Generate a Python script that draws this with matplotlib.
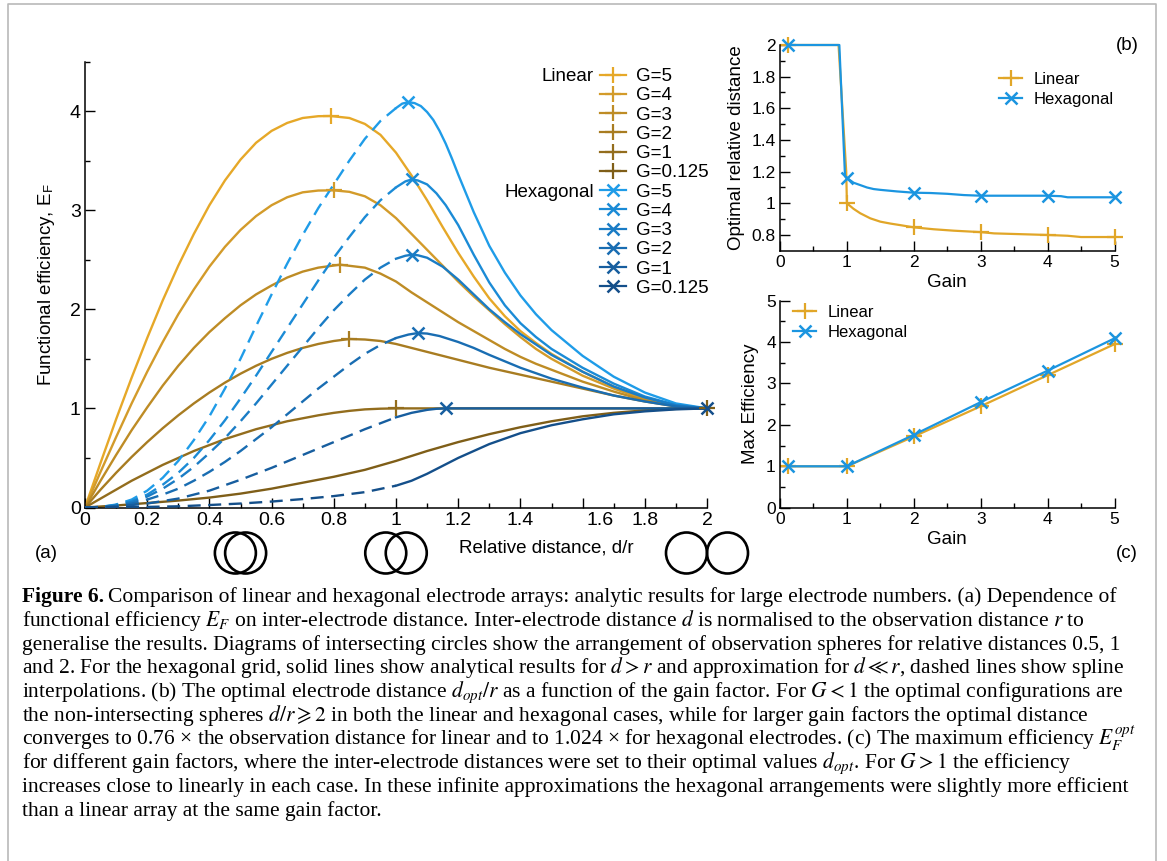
import numpy as np
import matplotlib
matplotlib.use("Agg")
import matplotlib.pyplot as plt
from matplotlib.lines import Line2D
from matplotlib.patches import Circle
from matplotlib.transforms import ScaledTranslation

plt.rcParams["font.family"] = ["Liberation Sans", "DejaVu Sans"]
plt.rcParams["mathtext.fontset"] = "stix"

# ---------------- data: panel (a), functional efficiency vs d/r
gain_labels = ["G=5", "G=4", "G=3", "G=2", "G=1", "G=0.125"]

lin_x = [
    [0, .05, .1, .15, .2, .25, .3, .35, .4, .45, .5, .55, .6, .65, .7, .75, .79, .85, .9, .95,
     1.0, 1.05, 1.1, 1.15, 1.2, 1.25, 1.3, 1.35, 1.4, 1.45, 1.5, 1.6, 1.7, 1.8, 1.9, 2.0],
    [0, .05, .1, .15, .2, .25, .3, .35, .4, .45, .5, .55, .6, .65, .7, .75, .8, .85, .9, .95,
     1.0, 1.05, 1.1, 1.15, 1.2, 1.25, 1.3, 1.35, 1.4, 1.45, 1.5, 1.6, 1.7, 1.8, 1.9, 2.0],
    [0, .05, .1, .15, .2, .25, .3, .35, .4, .45, .5, .55, .6, .65, .7, .75, .82, .9, .95,
     1.0, 1.05, 1.1, 1.15, 1.2, 1.25, 1.3, 1.35, 1.4, 1.45, 1.5, 1.6, 1.7, 1.8, 1.9, 2.0],
    [0, .05, .1, .15, .2, .25, .3, .35, .4, .45, .5, .55, .6, .65, .7, .75, .8, .85, .9, .95,
     1.0, 1.1, 1.2, 1.3, 1.4, 1.5, 1.6, 1.7, 1.8, 1.9, 2.0],
    [0, .05, .1, .15, .2, .25, .3, .35, .4, .45, .5, .55, .6, .65, .7, .75, .8, .85, .9, .95,
     1.0, 2.0],
    [0, .1, .2, .3, .4, .5, .6, .7, .8, .9, 1.0, 1.1, 1.2, 1.3, 1.4, 1.5, 1.6, 1.7, 1.8, 1.9, 2.0],
]
lin_y = [
    [0, .45, .89, 1.31, 1.71, 2.09, 2.44, 2.76, 3.05, 3.3, 3.51, 3.68, 3.8, 3.88, 3.93, 3.948, 3.95,
     3.93, 3.87, 3.76, 3.58, 3.35, 3.1, 2.83, 2.57, 2.33, 2.11, 1.93, 1.78, 1.66, 1.55, 1.37, 1.22,
     1.1, 1.03, 1.0],
    [0, .36, .71, 1.05, 1.37, 1.67, 1.95, 2.2, 2.43, 2.63, 2.8, 2.94, 3.05, 3.13, 3.18, 3.198, 3.2,
     3.185, 3.14, 3.05, 2.92, 2.76, 2.6, 2.44, 2.28, 2.13, 1.99, 1.85, 1.72, 1.6, 1.5, 1.33, 1.2,
     1.09, 1.025, 1.0],
    [0, .27, .53, .78, 1.01, 1.23, 1.43, 1.61, 1.77, 1.91, 2.04, 2.15, 2.24, 2.32, 2.38, 2.42, 2.45,
     2.42, 2.36, 2.28, 2.17, 2.07, 1.97, 1.87, 1.78, 1.69, 1.6, 1.52, 1.45, 1.39, 1.27, 1.17, 1.08,
     1.025, 1.0],
    [0, .18, .35, .51, .66, .8, .93, 1.05, 1.16, 1.26, 1.35, 1.43, 1.5, 1.56, 1.61, 1.65, 1.68, 1.70,
     1.695, 1.68, 1.65, 1.57, 1.49, 1.41, 1.34, 1.27, 1.2, 1.13, 1.07, 1.02, 1.0],
    [0, .09, .18, .27, .35, .43, .5, .57, .63, .69, .74, .79, .83, .87, .9, .93, .955, .975, .99, .997,
     1.0, 1.0],
    [0, .02, .045, .07, .1, .14, .19, .25, .31, .38, .47, .57, .66, .74, .81, .87, .92, .955, .98, .995, 1.0],
]

hex_x = [
    [0, .05, .1, .15, .2, .25, .3, .35, .4, .45, .5, .55, .6, .65, .7, .75, .8, .85, .9, .95,
     1.0, 1.02, 1.04, 1.06, 1.08, 1.1, 1.12, 1.14, 1.16, 1.18, 1.2, 1.25, 1.3, 1.35, 1.4, 1.45, 1.5,
     1.6, 1.7, 1.8, 1.9, 2.0],
    [0, .05, .1, .15, .2, .25, .3, .35, .4, .45, .5, .55, .6, .65, .7, .75, .8, .85, .9, .95,
     1.0, 1.03, 1.05, 1.07, 1.1, 1.13, 1.16, 1.2, 1.25, 1.3, 1.35, 1.4, 1.45, 1.5, 1.6, 1.7, 1.8,
     1.9, 2.0],
    [0, .05, .1, .15, .2, .25, .3, .35, .4, .45, .5, .55, .6, .65, .7, .75, .8, .85, .9, .95,
     1.0, 1.03, 1.05, 1.07, 1.1, 1.15, 1.2, 1.25, 1.3, 1.35, 1.4, 1.5, 1.6, 1.7, 1.8, 1.9, 2.0],
    [0, .05, .1, .15, .2, .25, .3, .35, .4, .45, .5, .55, .6, .65, .7, .75, .8, .85, .9, .95,
     1.0, 1.04, 1.07, 1.1, 1.14, 1.2, 1.25, 1.3, 1.4, 1.5, 1.6, 1.7, 1.8, 1.9, 2.0],
    [0, .1, .2, .3, .4, .5, .6, .7, .8, .9, .95, 1.0, 1.05, 1.1, 1.13, 1.16, 2.0],
    [0, .1, .2, .3, .4, .5, .6, .7, .8, .9, 1.0, 1.05, 1.1, 1.15, 1.2, 1.3, 1.4, 1.5, 1.6, 1.7,
     1.8, 1.9, 2.0],
]
hex_y = [
    [0, .005, .03, .08, .17, .3, .47, .68, .92, 1.2, 1.5, 1.83, 2.15, 2.46, 2.75, 3.02, 3.26, 3.5,
     3.72, 3.9, 4.03, 4.075, 4.09, 4.08, 4.05, 3.99, 3.91, 3.8, 3.67, 3.52, 3.36, 2.98, 2.64, 2.37,
     2.14, 1.95, 1.79, 1.53, 1.32, 1.16, 1.05, 1.0],
    [0, .005, .025, .065, .13, .23, .35, .5, .68, .88, 1.1, 1.33, 1.57, 1.81, 2.05, 2.29, 2.52,
     2.73, 2.93, 3.1, 3.23, 3.29, 3.31, 3.30, 3.26, 3.17, 3.05, 2.85, 2.55, 2.27, 2.04, 1.86, 1.72,
     1.6, 1.41, 1.25, 1.12, 1.035, 1.0],
    [0, .004, .02, .055, .11, .19, .29, .41, .55, .7, .87, 1.05, 1.24, 1.43, 1.62, 1.81, 1.99,
     2.15, 2.3, 2.42, 2.51, 2.54, 2.55, 2.545, 2.52, 2.43, 2.3, 2.15, 2.0, 1.87, 1.75, 1.54, 1.37,
     1.22, 1.11, 1.03, 1.0],
    [0, .003, .015, .04, .08, .13, .19, .27, .36, .46, .57, .69, .81, .94, 1.07, 1.2, 1.32, 1.44,
     1.55, 1.64, 1.71, 1.745, 1.76, 1.755, 1.73, 1.67, 1.61, 1.54, 1.41, 1.3, 1.21, 1.13, 1.07,
     1.02, 1.0],
    [0, .01, .04, .09, .17, .28, .4, .53, .66, .79, .85, .91, .955, .985, .996, 1.0, 1.0],
    [0, .002, .006, .012, .025, .04, .06, .085, .115, .155, .22, .27, .34, .42, .5, .64, .75, .83,
     .89, .94, .97, .99, 1.0],
]

lin_colors = ["#E6A828", "#D39B2A", "#BE8C25", "#A87C21", "#936D1D", "#7F5E18"]
hex_colors = ["#1F9CE8", "#1B8BD6", "#1A7CC5", "#196DB2", "#175E9F", "#144F8A"]

# ---------------- data: panel (b), optimal relative distance vs gain
gain_b_lin = [0.125, 0.875, 0.99, 1.0, 1.1, 1.2, 1.35, 1.5, 1.65, 1.8, 2.0, 2.3, 2.6, 3.0, 3.2, 3.6,
              4.0, 4.3, 4.5, 5.0]
dist_b_lin = [2.0, 2.0, 1.2, 1.0, 0.965, 0.937, 0.905, 0.884, 0.872, 0.862, 0.848, 0.836, 0.827,
              0.818, 0.81, 0.805, 0.80, 0.795, 0.787, 0.787]
gain_b_hex = [0.125, 0.887, 0.972, 1.0, 1.1, 1.2, 1.3, 1.4, 1.5, 1.75, 2.0, 2.25, 2.5, 2.75, 3.0,
              3.5, 4.0, 4.2, 4.3, 5.0]
dist_b_hex = [2.0, 2.0, 1.17, 1.16, 1.13, 1.115, 1.10, 1.09, 1.085, 1.075, 1.067, 1.065, 1.06,
              1.052, 1.048, 1.048, 1.048, 1.045, 1.038, 1.038]
marker_gains = [0.125, 1.0, 2.0, 3.0, 4.0, 5.0]

# ---------------- data: panel (c), max efficiency vs gain
gain_c = [0.125, 1, 2, 3, 4, 5]
eff_lin = [1.0, 1.0, 1.72, 2.45, 3.2, 3.95]
eff_hex = [1.0, 1.0, 1.76, 2.55, 3.31, 4.09]

LIN = "#E1A628"
HEX = "#1B95E0"

caption_lines = [
    "Comparison of linear and hexagonal electrode arrays: analytic results for large electrode numbers. (a) Dependence of",
    "functional efficiency $E_F$ on inter-electrode distance. Inter-electrode distance $d$ is normalised to the observation distance $r$ to",
    "generalise the results. Diagrams of intersecting circles show the arrangement of observation spheres for relative distances 0.5, 1",
    "and 2. For the hexagonal grid, solid lines show analytical results for $d > r$ and approximation for $d \\ll r$, dashed lines show spline",
    "interpolations. (b) The optimal electrode distance $d_{opt}/r$ as a function of the gain factor. For $G < 1$ the optimal configurations are",
    "the non-intersecting spheres $d/r \\geqslant 2$ in both the linear and hexagonal cases, while for larger gain factors the optimal distance",
    "converges to 0.76 × the observation distance for linear and to 1.024 × for hexagonal electrodes. (c) The maximum efficiency $E_F^{opt}$",
    "for different gain factors, where the inter-electrode distances were set to their optimal values $d_{opt}$. For $G > 1$ the efficiency",
    "increases close to linearly in each case. In these infinite approximations the hexagonal arrangements were slightly more efficient",
    "than a linear array at the same gain factor.",
]
caption_y = [597, 621, 645, 668, 692, 716, 740, 763, 787, 811]

W, H = 1167, 861
fig = plt.figure(figsize=(W / 100, H / 100), dpi=100)


def box(x0, y0, x1, y1):
    """pixel box (top-left origin) -> figure rect"""
    return [x0 / W, 1 - y1 / H, (x1 - x0) / W, (y1 - y0) / H]


def style_axes(ax, labelsize):
    for side in ("top", "right"):
        ax.spines[side].set_visible(False)
    for side in ("left", "bottom"):
        ax.spines[side].set_linewidth(1.1)
    ax.tick_params(which="both", direction="in", width=1.0, labelsize=labelsize, pad=3)
    ax.tick_params(which="major", length=7)
    ax.tick_params(which="minor", length=3.6)


# --- (a) functional efficiency
ax = fig.add_axes(box(85, 61.5, 707, 507.5))
style_axes(ax, 14)
for xs, ys, c in zip(lin_x, lin_y, lin_colors):
    xs, ys = np.array(xs), np.array(ys)
    ax.plot(xs, ys, color=c, lw=1.7, zorder=2, solid_joinstyle="round")
    k = int(np.argmax(ys))
    ax.plot(xs[k], ys[k], marker="+", ms=11, mew=1.6, color=c, zorder=4, clip_on=False)
for xs, ys, c in zip(hex_x, hex_y, hex_colors):
    xs, ys = np.array(xs), np.array(ys)
    dash = xs <= 1.0
    solid = xs >= 1.0
    ax.plot(xs[dash], ys[dash], color=c, lw=1.7, ls=(0, (5.5, 3.2)), zorder=3)
    ax.plot(xs[solid], ys[solid], color=c, lw=1.7, zorder=3, solid_joinstyle="round")
    k = int(np.argmax(ys))
    ax.plot(xs[k], ys[k], marker="x", ms=8, mew=1.8, color=c, zorder=4, clip_on=False)

ax.set_xlim(0, 2)
ax.set_ylim(0, 4.5)
ax.set_xticks([0, .2, .4, .6, .8, 1, 1.2, 1.4, 1.6, 1.8, 2],
              ["0", "0.2", "0.4", "0.6", "0.8", "1", "1.2", "1.4", "1.6", "1.8", "2"])
ax.set_xticks(np.arange(0.1, 2.0, 0.2), minor=True)
ax.set_yticks([0, 1, 2, 3, 4], ["0", "1", "2", "3", "4"])
ax.set_yticks([0.5, 1.5, 2.5, 3.5, 4.5], minor=True)
for lab in ax.get_xticklabels():
    if lab.get_text() == "1.6":
        lab.set_transform(lab.get_transform() + ScaledTranslation(0.17, 0, fig.dpi_scale_trans))
ax.set_ylabel("Functional efficiency, E$_\\mathregular{F}$", fontsize=13.5, va="center")
ax.yaxis.set_label_coords((47 - 85) / 622, 0.5)

handles = [Line2D([], [], color=c, lw=1.6, marker="+", ms=11, mew=1.6) for c in lin_colors]
handles += [Line2D([], [], color=c, lw=1.6, marker="x", ms=8, mew=1.8) for c in hex_colors]
leg = ax.legend(handles, gain_labels + gain_labels, loc="upper left",
                bbox_to_anchor=(600 / W, 1 - 68 / H), bbox_transform=fig.transFigure,
                frameon=False, fontsize=13.5, handlelength=1.4, handletextpad=0.5,
                labelspacing=0.113, borderpad=0, borderaxespad=0)

fig.text(546 / W, 1 - 548 / H, "Relative distance, d/r", fontsize=13.5, ha="center", va="center")
fig.text(35 / W, 1 - 553 / H, "(a)", fontsize=13.5, ha="left", va="center")

# circle diagrams for d/r = 0.5, 1, 2
r_px = 20.5
for d in (0.5, 1.0, 2.0):
    xc = ax.transData.transform((d, 0))[0]
    for sgn in (-1, 1):
        cx = xc + sgn * d * r_px / 2
        fig.add_artist(Circle((cx / 100, (H - 553) / 100), r_px / 100, transform=fig.dpi_scale_trans,
                              fill=False, ec="black", lw=1.9))

# --- (b) optimal relative distance
axb = fig.add_axes(box(780, 45, 1114.5, 250.8))
style_axes(axb, 12.5)
mk_lin = [gain_b_lin.index(g) for g in marker_gains]
mk_hex = [gain_b_hex.index(g) for g in marker_gains]
axb.plot(gain_b_hex, dist_b_hex, color=HEX, lw=1.6, marker="x", ms=8, mew=1.8,
         markevery=mk_hex, label="Hexagonal", clip_on=False, zorder=3)
axb.plot(gain_b_lin, dist_b_lin, color=LIN, lw=1.6, marker="+", ms=11, mew=1.6,
         markevery=mk_lin, label="Linear", clip_on=False, zorder=2)
axb.set_xlim(0, 5)
axb.set_ylim(0.7, 2.0)
axb.set_xticks([0, 1, 2, 3, 4, 5])
axb.set_xticks([0.5, 1.5, 2.5, 3.5, 4.5], minor=True)
axb.set_yticks([0.8, 1.0, 1.2, 1.4, 1.6, 1.8, 2.0], ["0.8", "1", "1.2", "1.4", "1.6", "1.8", "2"])
axb.set_yticks([0.9, 1.1, 1.3, 1.5, 1.7, 1.9], minor=True)
axb.set_xlabel("Gain", fontsize=13.5, va="center")
axb.xaxis.set_label_coords(0.5, -0.156)
axb.set_ylabel("Optimal relative distance", fontsize=13.5, va="center")
axb.yaxis.set_label_coords(-0.131, 0.5)
hb, lb = axb.get_legend_handles_labels()
axb.legend(hb[::-1], lb[::-1], loc="upper left", bbox_to_anchor=(999 / W, 1 - 72 / H),
           bbox_transform=fig.transFigure, frameon=False, fontsize=12, handlelength=1.4,
           handletextpad=0.65, labelspacing=0.3, borderpad=0, borderaxespad=0)
fig.text(1127 / W, 1 - 45 / H, "(b)", fontsize=13.5, ha="center", va="center")

# --- (c) max efficiency
axc = fig.add_axes(box(780, 300.7, 1114.5, 507.7))
style_axes(axc, 12.5)
axc.plot(gain_c, eff_lin, color=LIN, lw=1.6, marker="+", ms=11, mew=1.6, label="Linear",
         clip_on=False, zorder=2)
axc.plot(gain_c, eff_hex, color=HEX, lw=1.6, marker="x", ms=8, mew=1.8, label="Hexagonal",
         clip_on=False, zorder=3)
axc.set_xlim(0, 5)
axc.set_ylim(0, 5)
axc.set_xticks([0, 1, 2, 3, 4, 5])
axc.set_xticks([0.5, 1.5, 2.5, 3.5, 4.5], minor=True)
axc.set_yticks([0, 1, 2, 3, 4, 5])
axc.set_yticks([0.5, 1.5, 2.5, 3.5, 4.5], minor=True)
axc.set_xlabel("Gain", fontsize=13.5, va="center")
axc.xaxis.set_label_coords(0.5, -0.156)
axc.set_ylabel("Max Efficiency", fontsize=13.5, va="center")
axc.yaxis.set_label_coords(-0.0896, 0.5)
axc.legend(loc="upper left", bbox_to_anchor=(793 / W, 1 - 305 / H), bbox_transform=fig.transFigure,
           frameon=False, fontsize=12, handlelength=1.4, handletextpad=0.65, labelspacing=0.3,
           borderpad=0, borderaxespad=0)
fig.text(1127 / W, 1 - 553 / H, "(c)", fontsize=13.5, ha="center", va="center")

# --- light grey frame around the figure
fig.add_artist(Line2D([8 / W, 8 / W, 1156 / W, 1156 / W], [0, 1 - 4 / H, 1 - 4 / H, 0],
                      transform=fig.transFigure, color="#b9b9b9", lw=1.2))

# --- caption
cap_kw = dict(family=["Liberation Serif", "DejaVu Serif"], va="baseline", ha="left")
bold = fig.text(22 / W, 1 - (caption_y[0] + 5) / H, "Figure 6.", fontweight="bold", fontsize=12, **cap_kw)
cap = []
for line, y in zip(caption_lines, caption_y):
    cap.append(fig.text(22 / W, 1 - (y + 5) / H, line, fontsize=12, **cap_kw))

fig.canvas.draw()
rend = fig.canvas.get_renderer()
scale = 1104 / cap[8].get_window_extent(rend).width
for t in cap + [bold]:
    t.set_fontsize(12 * scale)
fig.canvas.draw()
bw = bold.get_window_extent(rend)
cap[0].set_x((bw.x1 + 4) / W)

# group titles of the legend in (a)
texts = leg.get_texts()
for i, name in ((0, "Linear"), (6, "Hexagonal")):
    bb = texts[i].get_window_extent(rend)
    fig.text(594 / W, (bb.y0 + bb.y1) / 2 / H, name, fontsize=13.5, ha="right", va="center")

fig.savefig("out.png", dpi=100)
